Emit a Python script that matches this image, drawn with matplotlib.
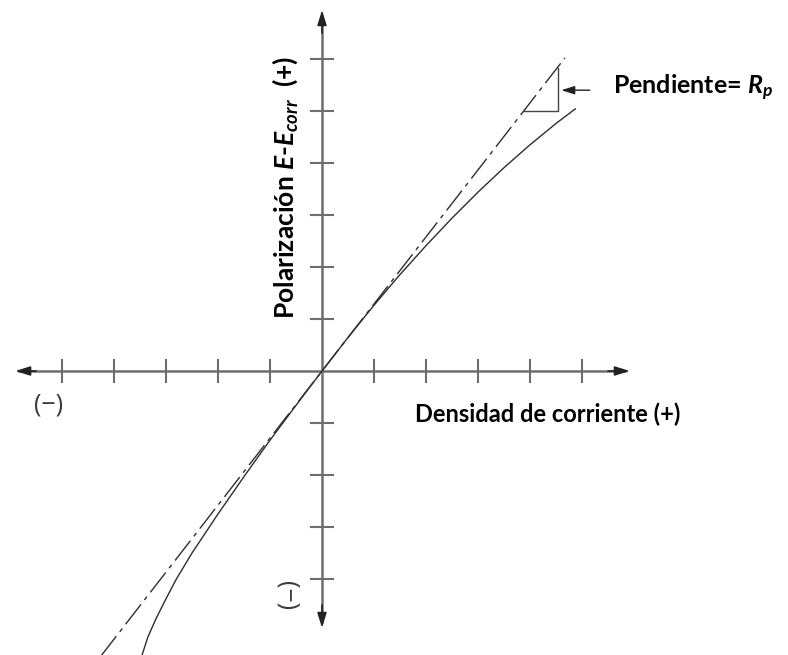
import matplotlib
matplotlib.use("Agg")
import matplotlib.pyplot as plt

# Polarization curve E - Ecorr vs current density (one tick = one unit)
curve_i = [-3.46, -3.35, -3.20, -3.00, -2.80, -2.50, -2.00, -1.50, -1.00, -0.50, 0.0,
           0.50, 1.00, 1.50, 2.00, 2.50, 3.00, 3.50, 4.00, 4.50, 4.87]
curve_e = [-5.46, -5.12, -4.78, -4.38, -4.00, -3.50, -2.75, -2.03, -1.33, -0.66, 0.0,
           0.645, 1.265, 1.855, 2.41, 2.94, 3.44, 3.91, 4.35, 4.76, 5.04]

# Linear tangent at the origin (slope = Rp)
rp_i = [-4.25, 4.67]
rp_e = [-5.48, 6.02]

# Slope triangle drawn against the tangent
tri_i = [3.87, 4.54, 4.54]
tri_e = [5.00, 5.00, 5.82]

x_ticks = [-5, -4, -3, -2, -1, 1, 2, 3, 4, 5]
y_ticks = [-4, -3, -2, -1, 1, 2, 3, 4, 5, 6]

plt.rcParams['mathtext.fontset'] = 'custom'
plt.rcParams['mathtext.rm'] = 'Lato:bold'
plt.rcParams['mathtext.it'] = 'Lato:italic:bold'
plt.rcParams['mathtext.bf'] = 'Lato:bold'

fig = plt.figure(figsize=(7.88, 6.55), dpi=100)
ax = fig.add_axes([0, 0, 1, 1])
ax.set_xlim(-322 / 52, 466 / 52)
ax.set_ylim(-284 / 52, 371 / 52)
ax.axis('off')

axis_col = '#6e6e6e'
ink = '#2e2e2e'

# axes with arrow heads
ax.plot([-5.85, 5.85], [0, 0], color=axis_col, lw=1.8, solid_capstyle='butt')
ax.plot([0, 0], [-4.85, 6.85], color=axis_col, lw=1.8, solid_capstyle='butt')
head = dict(arrowstyle='-|>,head_length=0.9,head_width=0.28', color='#222222', lw=1.2,
            shrinkA=0, shrinkB=0)
ax.annotate('', xy=(5.92, 0), xytext=(5.5, 0), arrowprops=head)
ax.annotate('', xy=(-5.90, 0), xytext=(-5.5, 0), arrowprops=head)
ax.annotate('', xy=(0, 6.94), xytext=(0, 6.5), arrowprops=head)
ax.annotate('', xy=(0, -4.94), xytext=(0, -4.5), arrowprops=head)

tl = 0.22
for t in x_ticks:
    ax.plot([t, t], [-tl, tl], color=axis_col, lw=1.5)
for t in y_ticks:
    ax.plot([-tl, tl], [t, t], color=axis_col, lw=1.5)

# curves
ax.plot(curve_i, curve_e, color=ink, lw=1.0)
ax.plot(rp_i, rp_e, color=ink, lw=1.0, dashes=(18, 4, 3, 4))
ax.plot(tri_i, tri_e, color='#444444', lw=1.0)

ax.annotate('', xy=(4.60, 5.40), xytext=(5.15, 5.40),
            arrowprops=dict(arrowstyle='-|>,head_length=0.8,head_width=0.25',
                            color='#222222', lw=1.0, shrinkA=0, shrinkB=0))

# labels
ax.text(5.60, 5.44, 'Pendiente= $R_p$', fontsize=18, fontweight='bold',
        family='Lato', ha='left', va='center')
ax.text(1.79, -0.83, 'Densidad de corriente (+)', fontsize=17, fontweight='bold',
        family='Lato', ha='left', va='center')
ax.text(-0.71, 3.52, 'Polarización $E$-$E_{corr}$  (+)', fontsize=19,
        fontweight='bold', family='Lato', rotation=90, ha='center', va='center')
ax.text(-5.25, -0.65, '(−)', fontsize=18, color='#3a3a3a',
        family=['Open Sans', 'DejaVu Sans'], ha='center', va='center')
ax.text(-0.67, -4.31, '(−)', fontsize=18, color='#3a3a3a',
        rotation=-90, family=['Open Sans', 'DejaVu Sans'], ha='center', va='center')

fig.savefig('out.png', dpi=100)
